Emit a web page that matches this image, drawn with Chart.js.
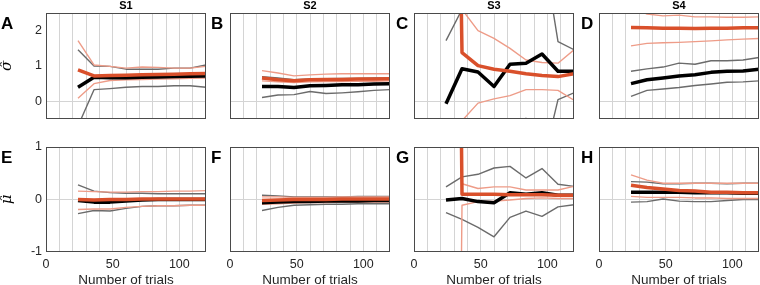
<!DOCTYPE html>
<html>
<head>
<meta charset="utf-8">
<script src="https://cdn.jsdelivr.net/npm/chart.js@4/dist/chart.umd.min.js"></script>
<style>
  body{margin:0;width:760px;height:285px;overflow:hidden;background:#fff;position:relative;font-family:'Liberation Sans',Arial,sans-serif;}
  canvas{position:absolute;}
  .letter{position:absolute;font-weight:bold;font-size:17px;line-height:17px;color:#000;}
  .subj{position:absolute;top:0;width:160px;text-align:center;font-weight:bold;font-size:11px;line-height:11px;color:#000;}
</style>
</head>
<body>
<script>
// x positions of the estimates (number of trials)
const trials = [24,36,48,60,72,84,96,108,120];
const xGrid = [0,10,20,30,40,50,60,70,80,90,100,110,120];
const xTickLabels = [0,50,100];
const sigmaTicks = [0,1,2];
const muTicks = [-1,0,1];
const sigmaRange = [-0.5,2.5];
const muRange = [-1,1];
const subjects = ['S1','S2','S3','S4'];
const letters = ['A','B','C','D','E','F','G','H'];

// ---- sigma-hat panels (top row) ----
const A_black  = [0.40,0.68,0.67,0.67,0.68,0.69,0.70,0.71,0.72];
const A_red    = [0.89,0.72,0.73,0.74,0.75,0.76,0.77,0.78,0.79];
const A_redHi  = [1.72,1.03,0.99,0.94,0.97,0.96,0.94,0.94,0.99];
const A_redLo  = [0.09,0.50,0.59,0.61,0.62,0.63,0.64,0.65,0.66];
const A_grayHi = [1.46,1.00,0.99,0.91,0.91,0.91,0.94,0.94,1.03];
const A_grayLo = [-0.70,0.33,0.36,0.40,0.42,0.42,0.44,0.44,0.40];

const B_black  = [0.42,0.42,0.39,0.44,0.45,0.47,0.47,0.49,0.50];
const B_red    = [0.66,0.61,0.58,0.61,0.62,0.62,0.63,0.63,0.64];
const B_redHi  = [0.87,0.80,0.72,0.75,0.77,0.78,0.78,0.78,0.78];
const B_redLo  = [0.58,0.55,0.53,0.55,0.56,0.56,0.57,0.57,0.58];
const B_grayHi = [0.70,0.66,0.61,0.63,0.64,0.65,0.65,0.66,0.66];
const B_grayLo = [0.11,0.18,0.19,0.28,0.22,0.24,0.27,0.31,0.33];

const C_black  = [-0.07,0.92,0.83,0.42,1.05,1.08,1.34,0.85,0.85];
const C_red    = [30,1.38,1.01,0.91,0.85,0.78,0.73,0.70,0.78];
const C_redHi  = [40,2.6,2.0,1.78,1.50,1.17,1.10,1.08,1.46];
const C_redLo  = [-20,-0.55,-0.05,0.07,0.16,0.33,0.33,0.31,0.03];
const C_grayHi = [1.72,2.6,3.5,3.5,3.5,3.5,4.5,1.69,1.46];
const C_grayLo = [-1.5,-1.5,-1.5,-1.2,-1.0,-0.48,-1.85,0.05,0.24];

const D_black  = [0.50,0.61,0.66,0.72,0.75,0.82,0.85,0.86,0.91];
const D_red    = [2.09,2.08,2.07,2.07,2.06,2.07,2.07,2.08,2.08];
const D_redHi  = [2.7,2.47,2.42,2.44,2.39,2.39,2.38,2.38,2.39];
const D_redLo  = [1.57,1.64,1.66,1.67,1.69,1.71,1.74,1.76,1.78];
const D_grayHi = [0.85,0.92,0.97,1.08,1.05,1.15,1.15,1.17,1.24];
const D_grayLo = [0.14,0.31,0.35,0.39,0.45,0.49,0.54,0.55,0.58];

// ---- mu-hat panels (bottom row) ----
const E_black  = [-0.02,-0.05,-0.05,-0.03,-0.01,0.00,0.00,0.00,0.00];
const E_red    = [0.00,-0.01,0.00,0.00,0.01,0.01,0.01,0.01,0.01];
const E_redHi  = [0.16,0.15,0.14,0.14,0.15,0.15,0.16,0.16,0.17];
const E_redLo  = [-0.19,-0.18,-0.18,-0.15,-0.13,-0.12,-0.12,-0.11,-0.11];
const E_grayHi = [0.28,0.16,0.13,0.12,0.12,0.11,0.11,0.11,0.11];
const E_grayLo = [-0.27,-0.21,-0.22,-0.17,-0.13,-0.12,-0.12,-0.11,-0.11];

const F_black  = [-0.06,-0.05,-0.04,-0.04,-0.03,-0.03,-0.03,-0.02,-0.02];
const F_red    = [-0.02,-0.01,0.00,0.00,0.00,0.01,0.01,0.01,0.01];
const F_redHi  = [0.05,0.05,0.04,0.04,0.04,0.05,0.05,0.05,0.05];
const F_redLo  = [-0.09,-0.08,-0.07,-0.06,-0.06,-0.05,-0.05,-0.05,-0.05];
const F_grayHi = [0.08,0.07,0.05,0.05,0.05,0.05,0.06,0.06,0.06];
const F_grayLo = [-0.21,-0.15,-0.11,-0.10,-0.09,-0.09,-0.08,-0.08,-0.08];

const G_black  = [-0.01,0.02,-0.04,-0.06,0.13,0.10,0.13,0.08,0.08];
const G_red    = [30,0.10,0.10,0.10,0.09,0.09,0.09,0.08,0.08];
const G_redHi  = [30,0.30,0.21,0.24,0.24,0.18,0.18,0.18,0.25];
const G_redLo  = [-30,-0.11,-0.04,-0.03,-0.01,0.02,0.03,0.02,0.02];
const G_grayHi = [0.24,0.43,0.48,0.60,0.63,0.41,0.59,0.29,0.25];
const G_grayLo = [-0.25,-0.38,-0.53,-0.71,-0.34,-0.22,-0.32,-0.14,-0.10];

const H_black  = [0.14,0.14,0.14,0.14,0.13,0.13,0.13,0.12,0.12];
const H_red    = [0.27,0.23,0.20,0.17,0.16,0.14,0.14,0.13,0.13];
const H_redHi  = [0.47,0.37,0.31,0.31,0.31,0.31,0.31,0.31,0.31];
const H_redLo  = [0.06,0.04,0.04,0.04,0.03,0.03,0.02,0.02,0.02];
const H_grayHi = [0.34,0.33,0.30,0.30,0.31,0.31,0.30,0.31,0.31];
const H_grayLo = [-0.05,-0.04,0.01,-0.03,-0.04,-0.04,-0.02,0.00,0.00];

// order = drawing order, first one ends up on top
const panels = [
  [A_red,A_black,A_redHi,A_redLo,A_grayHi,A_grayLo],
  [B_red,B_black,B_redHi,B_redLo,B_grayHi,B_grayLo],
  [C_red,C_black,C_redHi,C_redLo,C_grayHi,C_grayLo],
  [D_red,D_black,D_redHi,D_redLo,D_grayHi,D_grayLo],
  [E_red,E_black,E_redHi,E_redLo,E_grayHi,E_grayLo],
  [F_red,F_black,F_redHi,F_redLo,F_grayHi,F_grayLo],
  [G_red,G_black,G_redHi,G_redLo,G_grayHi,G_grayLo],
  [H_red,H_black,H_redHi,H_redLo,H_grayHi,H_grayLo]
];
const lineStyles = [
  {c:'#d9502b', w:3.5},
  {c:'#000000', w:3.5},
  {c:'#ee9c88', w:1.4},
  {c:'#ee9c88', w:1.4},
  {c:'#6b6b6b', w:1.4},
  {c:'#6b6b6b', w:1.4}
];

// layout
const plotLeft = [46,230,414,599];
const letterLeft = [1,211,396,581];

Chart.defaults.font.family = "'Liberation Sans', Arial, sans-serif";

// axes box around the plot area
const boxPlugin = {
  id:'box',
  afterDraw(c){
    const a=c.chartArea, x=c.ctx;
    x.save();
    x.strokeStyle='#4a4a4a'; x.lineWidth=1;
    x.strokeRect(a.left+0.5,a.top+0.5,a.right-a.left-1,a.bottom-a.top-1);
    x.restore();
  }
};

// no extra room for tick labels, the sizes are fixed
function noPad(s){ s.paddingTop=0; s.paddingBottom=0; s.paddingLeft=0; s.paddingRight=0; }

panels.forEach((sets,i)=>{
  const col=i%4, row=Math.floor(i/4);
  const cv=document.createElement('canvas');
  cv.width=210; cv.height=row?155:125;
  cv.style.left=(plotLeft[col]-46)+'px';
  cv.style.top=(row?134:0)+'px';
  document.body.appendChild(cv);

  const yt=row?muTicks:sigmaTicks, yr=row?muRange:sigmaRange;
  new Chart(cv,{
    type:'line',
    data:{datasets:sets.map((vals,k)=>({
      data:trials.map((t,j)=>({x:t,y:vals[j]})),
      borderColor:lineStyles[k].c, borderWidth:lineStyles[k].w,
      pointRadius:0, tension:0, fill:false, clip:0,
      borderJoinStyle:'round', borderCapStyle:'butt'
    }))},
    options:{
      responsive:false, animation:false, events:[],
      layout:{padding:{top:13,right:4,left:0,bottom:0}},
      plugins:{legend:{display:false},tooltip:{enabled:false}},
      scales:{
        x:{
          type:'linear', min:0, max:120,
          afterBuildTicks:s=>{s.ticks=xGrid.map(v=>({value:v}));},
          afterFit:s=>{s.height=row?37:6; noPad(s);},
          border:{display:false},
          grid:{drawTicks:false, color:c=>(c.tick && c.tick.value>0 && c.tick.value<120)?'#d4d4d4':'rgba(0,0,0,0)'},
          ticks:{display:row===1, autoSkip:false, maxRotation:0, padding:5, color:'#262626', font:{size:12.5},
                 callback:v=>xTickLabels.includes(v)?String(v):''},
          title:{display:row===1, text:'Number of trials', color:'#262626', font:{size:13.5,lineHeight:1}, padding:{top:0,bottom:2}}
        },
        y:{
          min:yr[0], max:yr[1],
          afterBuildTicks:s=>{s.ticks=yt.map(v=>({value:v}));},
          afterFit:s=>{s.width=46; noPad(s);},
          border:{display:false},
          grid:{drawTicks:false, color:c=>(c.tick && c.tick.value===0)?'#d4d4d4':'rgba(0,0,0,0)'},
          ticks:{display:col===0, padding:4, color:'#262626', font:{size:12.5}, callback:v=>String(v)},
          title:{display:col===0, text:row?'\u03BC\u0302':'\u03C3\u0302', color:'#000',
                 font:{family:"'DejaVu Serif', serif", style:'italic', size:15, lineHeight:1}, padding:0}
        }
      }
    },
    plugins:[boxPlugin]
  });

  // panel letter
  const L=document.createElement('div');
  L.className='letter'; L.textContent=letters[i];
  L.style.left=letterLeft[col]+'px'; L.style.top=(row?149:15)+'px';
  document.body.appendChild(L);
  // subject title above top row
  if(row===0){
    const T=document.createElement('div');
    T.className='subj'; T.textContent=subjects[col];
    T.style.left=plotLeft[col]+'px';
    document.body.appendChild(T);
  }
});
</script>
</body>
</html>
